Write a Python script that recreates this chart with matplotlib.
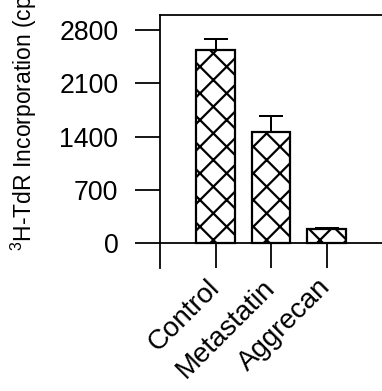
import matplotlib.pyplot as plt

# figure is drawn at 80 dpi so the 'x' hatch comes out at the reference's
# diamond size (hatch unit = 1 inch); sizes below are in points at 80 dpi
DPI = 80
plt.rcParams['font.family'] = ['Liberation Sans', 'DejaVu Sans']
plt.rcParams['mathtext.fontset'] = 'custom'
plt.rcParams['mathtext.rm'] = 'Liberation Sans'
plt.rcParams['mathtext.it'] = 'Liberation Sans:italic'
plt.rcParams['hatch.linewidth'] = 2.0

# data
groups = ['Control', 'Metastatin', 'Aggrecan']
values = [2540, 1455, 180]
errors = [140, 210, 10]
yticks = [0, 700, 1400, 2100, 2800]

fig = plt.figure(figsize=(382 / DPI, 391 / DPI), dpi=DPI)
ax = fig.add_axes([160 / 382, 1 - 268 / 391, 222 / 382, 253 / 391])

xpos = [1, 2, 3]
ax.bar(xpos, values, width=0.7, color='white', edgecolor='black',
       linewidth=2.0, hatch='x', zorder=2)
ax.errorbar(xpos, values, yerr=[[0] * 3, errors], fmt='none',
            ecolor='black', elinewidth=1.8, capsize=10.8, capthick=1.8,
            zorder=1)

ax.set_xlim(0, 4)
ax.set_ylim(-330, 3000)
ax.set_yticks(yticks)
ax.set_xticks(xpos)

ax.spines['right'].set_visible(False)
ax.spines['bottom'].set_position(('data', 0))
for s in ['left', 'top', 'bottom']:
    ax.spines[s].set_linewidth(1.6)

ax.tick_params(axis='y', direction='out', length=22.5, width=1.6,
               labelsize=24, pad=15)
ax.tick_params(axis='x', direction='out', length=22.5, width=1.6,
               labelsize=25, pad=14)
ax.set_xticklabels(groups)
plt.setp(ax.get_xticklabels(), rotation=45, ha='right', va='center',
         rotation_mode='anchor')

fig.text(9 / 382, 1 - 251 / 391, '$^3$H-TdR Incorporation (cpm)',
         rotation=90, fontsize=20.6, ha='left', va='bottom')

fig.savefig('out.png', dpi=DPI)
